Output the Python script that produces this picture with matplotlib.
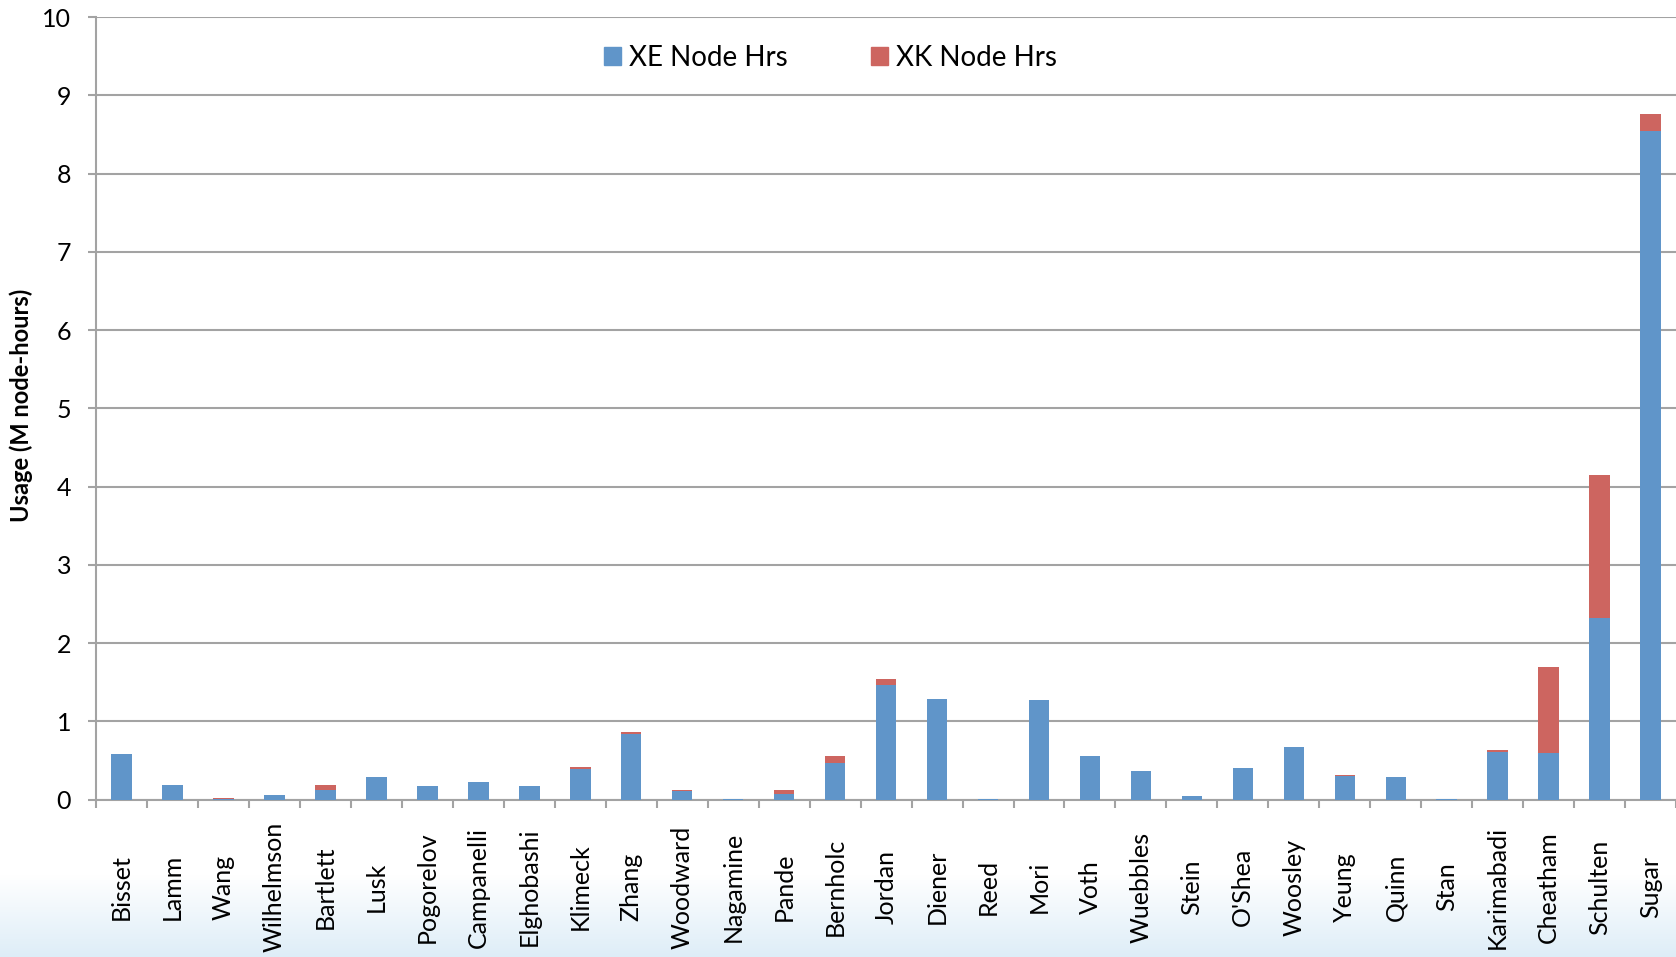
import numpy as np
import matplotlib
matplotlib.use("Agg")
import matplotlib.pyplot as plt
from matplotlib.patches import Patch

OUT_FILE = "out.png"

PIS = ["Bisset", "Lamm", "Wang", "Wilhelmson", "Bartlett", "Lusk", "Pogorelov",
       "Campanelli", "Elghobashi", "Klimeck", "Zhang", "Woodward", "Nagamine",
       "Pande", "Bernholc", "Jordan", "Diener", "Reed", "Mori", "Voth",
       "Wuebbles", "Stein", "O'Shea", "Woosley", "Yeung", "Quinn", "Stan",
       "Karimabadi", "Cheatham", "Schulten", "Sugar"]

# usage in millions of node-hours
xe_hours = [0.58, 0.19, 0.01, 0.06, 0.12, 0.29, 0.17,
            0.22, 0.17, 0.39, 0.84, 0.11, 0.005,
            0.07, 0.47, 1.47, 1.28, 0.005, 1.27, 0.555,
            0.366, 0.05, 0.40, 0.676, 0.30, 0.29, 0.005,
            0.61, 0.60, 2.32, 8.54]
xk_hours = [0.0, 0.0, 0.005, 0.0, 0.06, 0.0, 0.0,
            0.0, 0.0, 0.02, 0.02, 0.015, 0.0,
            0.055, 0.085, 0.065, 0.0, 0.0, 0.0, 0.0,
            0.0, 0.0, 0.0, 0.0, 0.015, 0.0, 0.0,
            0.024, 1.09, 1.83, 0.22]

Y_TICKS = list(range(0, 11))

XE_COLOR = "#6095c9"
XK_COLOR = "#cd6560"
GRID_COLOR = "#a3a3a3"
FONT = ["Lato", "DejaVu Sans"]


def add_background(fig):
    # pale blue wash along the bottom edge
    bg = fig.add_axes([0, 0, 1, 1], zorder=-10)
    top = np.array([1.0, 1.0, 1.0])
    bottom = np.array([0.87, 0.93, 0.97])
    frac = np.linspace(0, 1, 957)
    weight = np.clip((frac - 0.915) / 0.085, 0, 1)
    img = top[None, :] * (1 - weight[:, None]) + bottom[None, :] * weight[:, None]
    bg.imshow(img[:, None, :], aspect="auto", extent=[0, 1, 0, 1])
    bg.axis("off")


def plot_usage():
    plt.rcParams["font.family"] = FONT
    fig = plt.figure(figsize=(16.76, 9.57), dpi=100)
    add_background(fig)

    ax = fig.add_axes([0.0574, 0.1645, 0.9426, 0.8175])
    ax.patch.set_alpha(0)

    x = np.arange(len(PIS))
    xe = np.array(xe_hours)
    xk = np.array(xk_hours)
    ax.bar(x, xe, width=0.4, color=XE_COLOR, zorder=3)
    ax.bar(x, xk, width=0.4, bottom=xe, color=XK_COLOR, zorder=3)

    ax.set_xlim(-0.5, len(PIS) - 0.5)
    ax.set_ylim(0, 10)
    ax.set_yticks(Y_TICKS)
    ax.set_yticklabels([str(v) for v in Y_TICKS], fontsize=18)
    ax.yaxis.grid(True, color=GRID_COLOR, linewidth=1.5, zorder=0)

    ax.set_xticks(x)
    ax.set_xticklabels(PIS, rotation=90, fontsize=18, va="center", ha="center")
    ax.set_xticks(np.arange(len(PIS) + 1) - 0.5, minor=True)
    ax.tick_params(axis="x", which="major", length=0, pad=63)
    ax.tick_params(axis="x", which="minor", length=6, width=1.5, color=GRID_COLOR)
    ax.tick_params(axis="y", length=6, width=1.5, color=GRID_COLOR, pad=12)

    for side in ["top", "right"]:
        ax.spines[side].set_visible(False)
    for side in ["left", "bottom"]:
        ax.spines[side].set_color(GRID_COLOR)
        ax.spines[side].set_linewidth(1.5)

    fig.text(0.0125, 0.576, "Usage (M node-hours)", rotation=90, fontsize=17,
             fontweight="bold", ha="center", va="center")

    handles = [Patch(color=XE_COLOR, label="XE Node Hrs"),
               Patch(color=XK_COLOR, label="XK Node Hrs")]
    fig.legend(handles=handles, loc="center left", bbox_to_anchor=(0.3604, 0.9395),
               ncol=2, frameon=False, fontsize=20, borderpad=0, borderaxespad=0,
               handlelength=0.6, handleheight=0.6, handletextpad=0.3,
               columnspacing=3.0)

    fig.savefig(OUT_FILE, dpi=100)
    plt.close(fig)


def main():
    plot_usage()
    print(f"Saved {OUT_FILE}")


if __name__ == "__main__":
    main()
